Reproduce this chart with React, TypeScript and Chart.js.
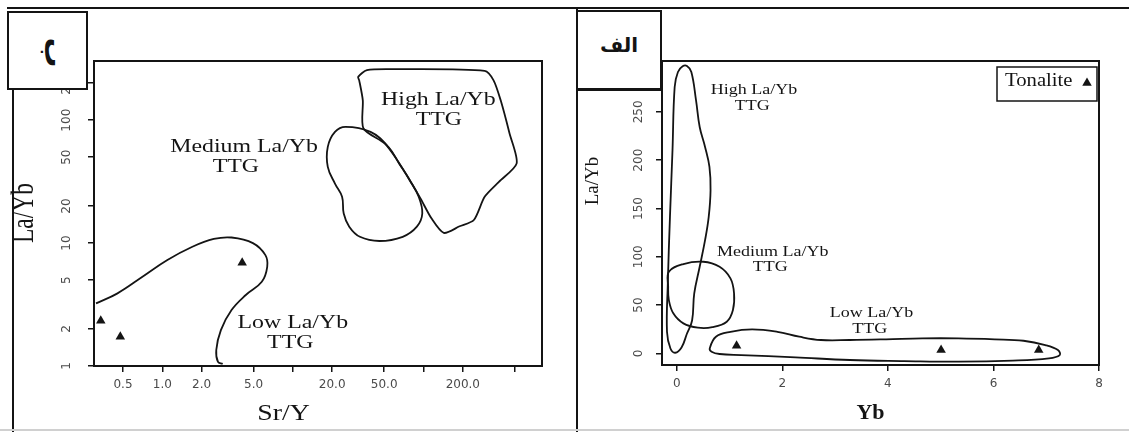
import React, { useEffect, useRef } from "react";
import { Chart, registerables } from "chart.js";

Chart.register(...registerables);

// ---------------- Left panel: La/Yb vs Sr/Y (log-log) ----------------
const srYTicks = [0.5, 1, 2, 5, 10, 20, 50, 100, 200, 500];
const srYTickLabels = ["0.5", "1.0", "2.0", "5.0", "", "20.0", "50.0", "", "200.0", ""];
const laYbLogTicks = [1, 2, 5, 10, 20, 50, 100, 200];
const laYbLogTickLabels = ["1", "2", "5", "10", "20", "50", "100", "200"];

const lowFieldSrY = [0.311, 0.454, 0.705, 1.094, 1.7, 2.48, 3.39, 4.94, 6.16, 6.36, 5.78, 4.36, 3.39, 2.81, 2.59, 2.67, 2.9];
const lowFieldLaYbA = [3.23, 3.9, 5.32, 7.28, 9.33, 10.8, 11.1, 10.0, 7.98, 6.41, 4.84, 3.78, 2.85, 1.96, 1.35, 1.08, 1.04];

const mediumFieldSrY = [25.3, 39.3, 53.8, 65.0, 78.5, 91.9, 97.9, 89.0, 69.3, 46.0, 32.6, 27.0, 24.5, 23.8, 21.0, 18.5, 18.5, 21.0];
const mediumFieldLaYbA = [88.3, 80.3, 60.7, 44.5, 32.5, 23.8, 17.4, 13.6, 11.25, 10.4, 11.25, 13.6, 17.4, 23.8, 30.5, 41.7, 60.7, 80.3];

const highFieldSrY = [31.6, 36.9, 57.4, 294, 344, 390, 456, 517, 378, 294, 243, 189, 143, 115, 94.8, 78.5, 63.0, 50.6, 34.7, 34.3, 32.2];
const highFieldLaYbA = [225, 255, 260, 252, 211, 145, 78, 44.5, 31.5, 23.8, 15.4, 13.7, 12.1, 15.9, 23.1, 32.5, 47.3, 64.6, 85.6, 145, 211];

const tonaliteSrY = [0.338, 0.477, 4.09];
const tonaliteLaYbA = [2.33, 1.73, 6.92];

const noteText = ["High La/Yb", "TTG", "Medium La/Yb", "TTG", "Low La/Yb", "TTG"];
const noteSrY = [130, 131, 4.23, 3.66, 9.98, 9.55];
const noteLaYbA = [145, 100, 60.7, 41.7, 2.22, 1.55];

// ---------------- Right panel: La/Yb vs Yb (linear) ----------------
const ybTicks = [0, 2, 4, 6, 8];
const laYbLinTicks = [0, 50, 100, 150, 200, 250];

const highFieldYb = [0.193, 0.276, 0.365, 0.434, 0.536, 0.619, 0.64, 0.605, 0.536, 0.434, 0.331, 0.29, 0.19, 0.09, -0.03, -0.12, -0.185, -0.17, -0.129, -0.081, -0.04, 0.022, 0.111];
const highFieldLaYbB = [297.5, 291.3, 262.0, 234.4, 213.7, 193.0, 168.9, 141.3, 117.2, 89.6, 62.1, 34, 20, 6, 0.6, 5, 22, 72.4, 141.3, 210.3, 275.8, 291.3, 297.2];

const mediumFieldYb = [-0.15, 0.125, 0.502, 0.811, 1.017, 1.085, 1.064, 0.947, 0.674, 0.4, 0.125, -0.066, -0.15, -0.163];
const mediumFieldLaYbB = [84.4, 92.4, 94.8, 89.6, 77.6, 62.1, 44.8, 32.7, 27, 26.5, 31.0, 41.4, 55.1, 68.9];

const lowFieldYb = [0.625, 0.742, 1.017, 1.428, 1.907, 2.32, 2.731, 3.278, 3.966, 4.652, 5.337, 6.023, 6.57, 6.983, 7.222, 7.256, 7.051, 6.366, 5.337, 4.309, 3.278, 2.25, 1.222, 0.811, 0.659];
const lowFieldLaYbB = [5.2, 17.2, 22.3, 24.8, 22.3, 17.2, 13.8, 13.8, 14.5, 15.5, 15.5, 14.5, 13.0, 8.6, 3.4, -1.8, -5.2, -7.6, -8.7, -8.0, -6.9, -4.2, -1.8, -0.7, 1.7];

const tonaliteYb = [1.133, 5.008, 6.858];
const tonaliteLaYbB = [7.9, 3.4, 3.4];

const noteYb = [1.462, 1.428, 1.818, 1.771, 3.691, 3.657];
const noteLaYbB = [272.3, 255.8, 105.1, 89.6, 41.4, 24.8];

const legendLabel = "Tonalite";

// ---------------- styling helpers ----------------
const INK = "#141414";
const TICK = "#4a4a4a";
const SERIF = '"Liberation Serif", "Times New Roman", serif';
const SANS = '"DejaVu Sans", sans-serif';

const pts = (xs: number[], ys: number[]) => xs.map((x, i) => ({ x, y: ys[i] }));

const field = (label: string, xs: number[], ys: number[], closed: boolean, tension: number) => ({
  label,
  data: pts(xs, ys),
  closed,
  showLine: true,
  borderColor: INK,
  borderWidth: 1.8,
  pointRadius: 0,
  pointHoverRadius: 0,
  tension,
  fill: false,
});

const markers = (xs: number[], ys: number[]) => ({
  label: legendLabel,
  data: pts(xs, ys),
  showLine: false,
  pointStyle: "triangle",
  pointRadius: 5.5,
  pointHoverRadius: 5.5,
  backgroundColor: INK,
  borderColor: INK,
  borderWidth: 0,
});

const lookup = (vals: number[], labels: string[]) => (v: any) => {
  const i = vals.findIndex((t) => Math.abs(t - Number(v)) < 1e-9);
  return i >= 0 ? labels[i] : "";
};

function stretchText(ctx: CanvasRenderingContext2D, text: string, x: number, y: number, font: string, sx: number, rot = 0, align: CanvasTextAlign = "center") {
  ctx.save();
  ctx.translate(x, y);
  ctx.scale(sx, 1);
  if (rot) ctx.rotate(rot);
  ctx.font = font;
  ctx.fillStyle = INK;
  ctx.textAlign = align;
  ctx.textBaseline = "middle";
  ctx.fillText(text, 0, 0);
  ctx.restore();
}

const closeLoops = {
  id: "closeLoops",
  afterDatasetsUpdate(chart: any) {
    chart.data.datasets.forEach((ds: any, i: number) => {
      if (!ds.closed) return;
      const meta = chart.getDatasetMeta(i);
      if (meta.dataset) {
        meta.dataset._loop = true;
        meta.dataset._fullLoop = true;
      }
    });
  },
};

const frame = {
  id: "frame",
  afterDraw(chart: any) {
    const { ctx, chartArea: a } = chart;
    ctx.save();
    ctx.strokeStyle = INK;
    ctx.lineWidth = 2;
    ctx.strokeRect(a.left, a.top, a.right - a.left, a.bottom - a.top);
    ctx.restore();
  },
};

const notes = (xs: number[], ys: number[], font: string, sx: number) => ({
  id: "notes",
  afterDatasetsDraw(chart: any) {
    const { ctx, scales } = chart;
    noteText.forEach((t, i) =>
      stretchText(ctx, t, scales.x.getPixelForValue(xs[i]), scales.y.getPixelForValue(ys[i]), font, sx)
    );
  },
});

type TitleItem = { text: string; x: number; y: number; font: string; sx: number; rot: number };
const axisTitles = (items: TitleItem[]) => ({
  id: "axisTitles",
  afterDraw(chart: any) {
    items.forEach((it) => stretchText(chart.ctx, it.text, it.x, it.y, it.font, it.sx, it.rot));
  },
});

const boxedLegend = {
  id: "boxedLegend",
  afterDraw(chart: any) {
    const { ctx, chartArea: a } = chart;
    const right = a.right - 2;
    const left = right - 100;
    const top = a.top + 6;
    ctx.save();
    ctx.strokeStyle = INK;
    ctx.lineWidth = 1.5;
    ctx.fillStyle = "#fff";
    ctx.fillRect(left, top, 100, 34);
    ctx.strokeRect(left, top, 100, 34);
    ctx.restore();
    stretchText(ctx, legendLabel, left + 8, top + 14, `18px ${SERIF}`, 1.15, 0, "left");
    const cx = right - 10;
    const cy = top + 16;
    const r = 5.5;
    ctx.save();
    ctx.fillStyle = INK;
    ctx.beginPath();
    ctx.moveTo(cx, cy - r);
    ctx.lineTo(cx + r * 0.866, cy + r / 2);
    ctx.lineTo(cx - r * 0.866, cy + r / 2);
    ctx.closePath();
    ctx.fill();
    ctx.restore();
  },
};

const axisGrid = { drawOnChartArea: false, drawTicks: true, tickLength: 6, color: INK, lineWidth: 1.5 };
const tickFont = { family: SANS, size: 12 };

const baseOptions = {
  responsive: false,
  animation: false as const,
  devicePixelRatio: 1,
  events: [] as any[],
  plugins: { legend: { display: false }, tooltip: { enabled: false } },
};

export default function App() {
  const leftRef = useRef<HTMLCanvasElement>(null);
  const rightRef = useRef<HTMLCanvasElement>(null);

  useEffect(() => {
    const left = new Chart(leftRef.current as HTMLCanvasElement, {
      type: "line",
      data: {
        datasets: [
          field("Low La/Yb TTG", lowFieldSrY, lowFieldLaYbA, false, 0.4),
          field("Medium La/Yb TTG", mediumFieldSrY, mediumFieldLaYbA, true, 0.4),
          field("High La/Yb TTG", highFieldSrY, highFieldLaYbA, true, 0.25),
          markers(tonaliteSrY, tonaliteLaYbA),
        ] as any,
      },
      options: {
        ...baseOptions,
        layout: { padding: { left: 0, top: 61, right: 34, bottom: 0 } },
        scales: {
          x: {
            type: "logarithmic",
            min: 0.3,
            max: 808,
            bounds: "data",
            afterBuildTicks: (s: any) => { s.ticks = srYTicks.map((v) => ({ value: v })); },
            afterFit: (s: any) => { s.height = 66; },
            grid: axisGrid,
            border: { display: false },
            ticks: { autoSkip: false, minRotation: 0, maxRotation: 0, padding: 6, color: TICK, font: tickFont, callback: lookup(srYTicks, srYTickLabels) },
          },
          y: {
            type: "logarithmic",
            min: 1,
            max: 303,
            bounds: "data",
            afterBuildTicks: (s: any) => { s.ticks = laYbLogTicks.map((v) => ({ value: v })); },
            afterFit: (s: any) => { s.width = 94; },
            grid: axisGrid,
            border: { display: false },
            ticks: { autoSkip: false, minRotation: 90, maxRotation: 90, crossAlign: "center", padding: 9.5, color: TICK, font: tickFont, callback: lookup(laYbLogTicks, laYbLogTickLabels) },
          },
        } as any,
      } as any,
      plugins: [
        closeLoops,
        frame,
        notes(noteSrY, noteLaYbA, `19px ${SERIF}`, 1.255),
        axisTitles([
          { text: "Sr/Y", x: 283.5, y: 414, font: `23px ${SERIF}`, sx: 1.21, rot: 0 },
          { text: "La/Yb", x: 24.5, y: 213, font: `23.5px ${SERIF}`, sx: 1.3, rot: -Math.PI / 2 },
        ]),
      ],
    });

    const right = new Chart(rightRef.current as HTMLCanvasElement, {
      type: "line",
      data: {
        datasets: [
          field("High La/Yb TTG", highFieldYb, highFieldLaYbB, true, 0.4),
          field("Medium La/Yb TTG", mediumFieldYb, mediumFieldLaYbB, true, 0.4),
          field("Low La/Yb TTG", lowFieldYb, lowFieldLaYbB, true, 0.4),
          markers(tonaliteYb, tonaliteLaYbB),
        ] as any,
      },
      options: {
        ...baseOptions,
        layout: { padding: { left: 0, top: 61, right: 30, bottom: 0 } },
        scales: {
          x: {
            type: "linear",
            min: -0.28,
            max: 8,
            bounds: "data",
            afterBuildTicks: (s: any) => { s.ticks = ybTicks.map((v) => ({ value: v })); },
            afterFit: (s: any) => { s.height = 67; },
            grid: axisGrid,
            border: { display: false },
            ticks: { autoSkip: false, minRotation: 0, maxRotation: 0, padding: 6, color: TICK, font: tickFont, callback: (v: any) => String(v) },
          },
          y: {
            type: "linear",
            min: -12.1,
            max: 302.7,
            bounds: "data",
            afterBuildTicks: (s: any) => { s.ticks = laYbLinTicks.map((v) => ({ value: v })); },
            afterFit: (s: any) => { s.width = 86; },
            grid: axisGrid,
            border: { display: false },
            ticks: { autoSkip: false, minRotation: 90, maxRotation: 90, crossAlign: "center", padding: 6, color: TICK, font: tickFont, callback: (v: any) => String(v) },
          },
        } as any,
      } as any,
      plugins: [
        closeLoops,
        frame,
        notes(noteYb, noteLaYbB, `15px ${SERIF}`, 1.2),
        boxedLegend,
        axisTitles([
          { text: "Yb", x: 294.5, y: 413, font: `bold 22px ${SERIF}`, sx: 1.0, rot: 0 },
          { text: "La/Yb", x: 17, y: 181, font: `19px ${SERIF}`, sx: 1.0, rot: -Math.PI / 2 },
        ]),
      ],
    });

    return () => {
      left.destroy();
      right.destroy();
    };
  }, []);

  const line = (l: number, t: number, w: number, h: number, c = INK) => (
    <div style={{ position: "absolute", left: l, top: t, width: w, height: h, background: c }} />
  );
  const box: React.CSSProperties = {
    position: "absolute",
    boxSizing: "border-box",
    border: `2px solid ${INK}`,
    background: "#fff",
    display: "flex",
    alignItems: "center",
    justifyContent: "center",
    fontFamily: '"DejaVu Sans", sans-serif',
    fontWeight: "bold",
    color: INK,
  };

  return (
    <div style={{ position: "fixed", left: 0, top: 0, width: 1129, height: 432, background: "#fff", overflow: "hidden" }}>
      <canvas ref={leftRef} width={576} height={432} style={{ position: "absolute", left: 0, top: 0 }} />
      <canvas ref={rightRef} width={553} height={432} style={{ position: "absolute", left: 576, top: 0 }} />
      {line(7, 7, 1122, 2)}
      {line(12, 89, 2, 343)}
      {line(576, 7, 2, 425)}
      {line(0, 429, 1129, 2, "#d0d0d0")}
      <div style={{ ...box, left: 7, top: 11, width: 81, height: 79, fontSize: 30 }}>
        <span style={{ display: "inline-block", transform: "translate(8px, 2px) rotate(90deg)" }}>ب</span>
      </div>
      <div style={{ ...box, left: 576, top: 10, width: 86, height: 81, borderBottomWidth: 3, paddingBottom: 10, fontSize: 20 }} dir="rtl">
        الف
      </div>
    </div>
  );
}
